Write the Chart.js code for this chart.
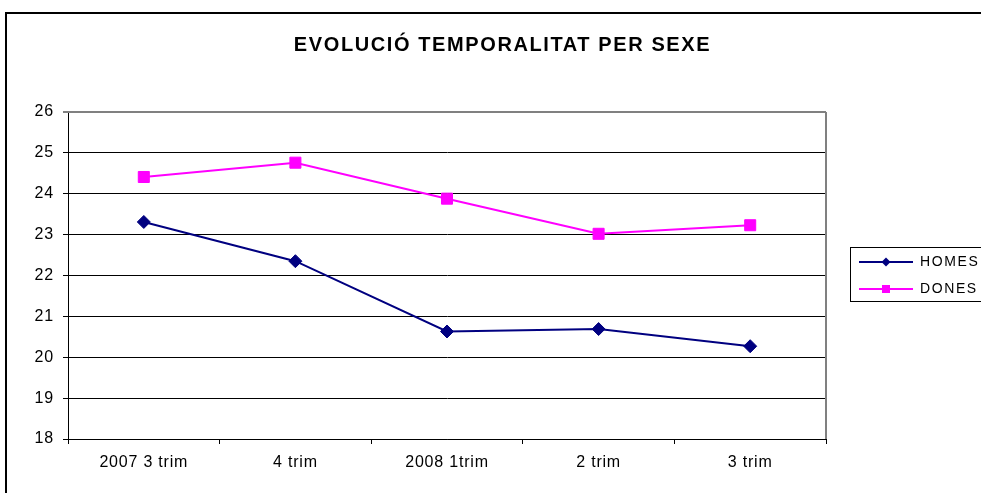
<!DOCTYPE html>
<html>
<head>
<meta charset="utf-8">
<script src="https://cdn.jsdelivr.net/npm/chart.js@4/dist/chart.umd.min.js"></script>
<style>
  html, body { margin: 0; padding: 0; background: #fff; }
  #c { display: block; }
</style>
</head>
<body>
<canvas id="c" width="981" height="493"></canvas>
<script>
const chartTitle = 'EVOLUCIÓ TEMPORALITAT PER SEXE';
const categories = ['2007 3 trim', '4 trim', '2008 1trim', '2 trim', '3 trim'];
const homes = [23.31, 22.35, 20.63, 20.69, 20.27];
const dones = [24.41, 24.76, 23.88, 23.02, 23.23];
const seriesNames = ['HOMES', 'DONES'];
const yMin = 18, yMax = 26, yStep = 1;

const FONT = "'Liberation Sans', Arial, sans-serif";
const navy = '#000080';
const magenta = '#FF00FF';

function legendIcon(color, style) {
  const cv = document.createElement('canvas');
  cv.width = 54; cv.height = 14;
  const g = cv.getContext('2d');
  g.strokeStyle = color; g.lineWidth = 2;
  g.beginPath(); g.moveTo(0, 7); g.lineTo(54, 7); g.stroke();
  g.fillStyle = color;
  g.beginPath();
  if (style === 'diamond') {
    g.moveTo(27 - 4.5, 7); g.lineTo(27, 7 - 4.5); g.lineTo(27 + 4.5, 7); g.lineTo(27, 7 + 4.5); g.closePath();
  } else {
    g.rect(27 - 4, 7 - 4, 8, 8);
  }
  g.fill();
  return cv;
}
const icons = [legendIcon(navy, 'diamond'), legendIcon(magenta, 'square')];

const decor = {
  id: 'decor',
  beforeDraw(chart) {
    const ctx = chart.ctx;
    ctx.save();
    ctx.strokeStyle = '#000';
    ctx.lineWidth = 2;
    ctx.strokeRect(6, 13, 2000, 2000);
    ctx.restore();
    ctx.letterSpacing = '1.6px';
  },
  beforeDatasetsDraw(chart) {
    const ctx = chart.ctx, a = chart.chartArea;
    ctx.save();
    ctx.letterSpacing = '0px';
    ctx.strokeStyle = '#808080';
    ctx.lineWidth = 2;
    ctx.beginPath();
    ctx.moveTo(a.left, a.top); ctx.lineTo(a.right, a.top);
    ctx.moveTo(a.right, a.top); ctx.lineTo(a.right, a.bottom);
    ctx.stroke();
    ctx.restore();
  },
  afterDatasetsDraw(chart) {
    chart.ctx.letterSpacing = '0.8px';
  },
  afterDraw(chart) {
    const ctx = chart.ctx;
    ctx.letterSpacing = '0px';
    ctx.save();
    ctx.strokeStyle = '#000';
    ctx.lineWidth = 1;
    ctx.strokeRect(850.5, 247.5, 200, 54);
    ctx.restore();
  }
};

new Chart(document.getElementById('c'), {
  type: 'line',
  data: {
    labels: categories,
    datasets: [
      {
        label: seriesNames[0], data: homes,
        borderColor: navy, backgroundColor: navy, borderWidth: 2,
        pointStyle: 'rectRot', pointRadius: 6.5, pointBorderWidth: 1,
        pointBackgroundColor: navy, pointBorderColor: navy, tension: 0
      },
      {
        label: seriesNames[1], data: dones,
        borderColor: magenta, backgroundColor: magenta, borderWidth: 2,
        pointStyle: 'rect', pointRadius: 7.8, pointBorderWidth: 1,
        pointBackgroundColor: magenta, pointBorderColor: magenta, tension: 0
      }
    ]
  },
  options: {
    responsive: false,
    devicePixelRatio: 1,
    animation: false,
    layout: { padding: { left: 24, right: 0, top: 0, bottom: 0 } },
    plugins: {
      title: {
        display: true, text: chartTitle, color: '#000',
        font: { family: FONT, size: 20, weight: 'bold', lineHeight: 1.2 },
        padding: { top: 33, bottom: 55 }
      },
      legend: {
        display: true, position: 'right', align: 'center', fullSize: false,
        maxWidth: 135, z: 1,
        labels: {
          color: '#000', font: { family: FONT, size: 14 },
          padding: 13, usePointStyle: true, pointStyleWidth: 54,
          generateLabels(chart) {
            return chart.data.datasets.map((ds, i) => ({
              text: ds.label, fillStyle: ds.borderColor, strokeStyle: ds.borderColor,
              lineWidth: 0, pointStyle: icons[i], hidden: false, datasetIndex: i, fontColor: '#000'
            }));
          }
        }
      },
      tooltip: { enabled: false }
    },
    scales: {
      x: {
        type: 'category', offset: true,
        grid: { display: true, offset: true, drawOnChartArea: false, drawTicks: true, tickLength: 5, color: '#000', lineWidth: 1 },
        border: { display: true, color: '#000', width: 1 },
        ticks: { color: '#000', font: { family: FONT, size: 16 }, padding: 9, maxRotation: 0, autoSkip: false, z: 1 },
        afterFit(s) { s.height = 54; }
      },
      y: {
        type: 'linear', min: yMin, max: yMax,
        grid: {
          display: true, drawTicks: true, tickLength: 5,
          color: (c) => (c.tick && c.tick.value === yMax) ? '#808080' : '#000',
          lineWidth: (c) => (c.tick && c.tick.value === yMax) ? 2 : 1
        },
        border: { display: true, color: '#000', width: 1 },
        ticks: { stepSize: yStep, color: '#000', font: { family: FONT, size: 16 }, padding: 9, z: 1 },
        afterFit(s) { s.width = 44; }
      },
      yR: {
        type: 'linear', position: 'right', display: true,
        grid: { display: false }, ticks: { display: false }, border: { display: false },
        afterFit(s) { s.width = 20; }
      }
    }
  },
  plugins: [decor]
});
</script>
</body>
</html>
